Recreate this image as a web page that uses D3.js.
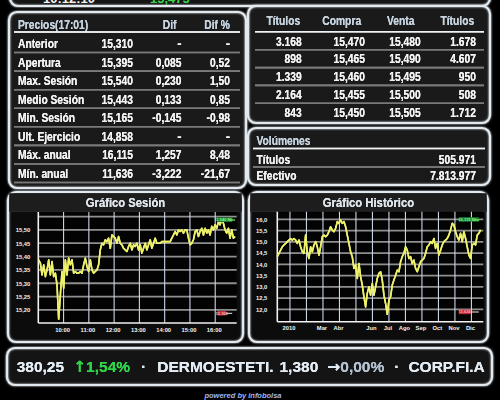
<!DOCTYPE html>
<html>
<head>
<meta charset="utf-8">
<script src="https://cdn.jsdelivr.net/npm/d3@7/dist/d3.min.js"></script>
<style>
  body { margin: 0; background: #000; }
  svg { display: block; }
  text { font-family: "Liberation Sans", Arial, sans-serif; font-weight: bold; }
  .arrow { font-family: "DejaVu Sans", sans-serif; }
</style>
</head>
<body>
<div id="screen"></div>
<script>
// ---- data ----
var preciosTitle = "Precios(17:01)";
var preciosHeader = ["Dif", "Dif %"];
var preciosLabels = ["Anterior", "Apertura", "Max. Sesión", "Medio Sesión", "Min. Sesión", "Ult. Ejercicio", "Máx. anual", "Mín. anual"];
var preciosValues = ["15,310", "15,395", "15,540", "15,443", "15,165", "14,858", "16,115", "11,636"];
var preciosDif = ["-", "0,085", "0,230", "0,133", "-0,145", "-", "1,257", "-3,222"];
var preciosDifPct = ["-", "0,52", "1,50", "0,85", "-0,98", "-", "8,48", "-21,67"];

var bookHeader = ["Títulos", "Compra", "Venta", "Títulos"];
var bookTitulosCompra = ["3.168", "898", "1.339", "2.164", "843"];
var bookCompra = ["15,470", "15,465", "15,460", "15,455", "15,450"];
var bookVenta = ["15,480", "15,490", "15,495", "15,500", "15,505"];
var bookTitulosVenta = ["1.678", "4.607", "950", "508", "1.712"];

var volTitle = "Volúmenes";
var volLabels = ["Títulos", "Efectivo"];
var volValues = ["505.971", "7.813.977"];

// session chart (minutes from midnight, ~4 min samples)
var sessionStart = 541, sessionStep = 3.95;
var sessionValues = [15.388, 15.375, 15.331, 15.369, 15.325, 15.350, 15.388, 15.331, 15.381, 15.325,
  15.338, 15.294, 15.165, 15.256, 15.344, 15.281, 15.388, 15.331, 15.394, 15.369,
  15.388, 15.338, 15.344, 15.338, 15.338, 15.344, 15.338, 15.369, 15.394, 15.363,
  15.344, 15.388, 15.350, 15.338, 15.344, 15.350, 15.369, 15.425, 15.450, 15.444,
  15.463, 15.456, 15.469, 15.431, 15.481, 15.475, 15.469, 15.450, 15.475, 15.450,
  15.444, 15.431, 15.425, 15.419, 15.438, 15.450, 15.425, 15.444, 15.438, 15.450,
  15.425, 15.444, 15.413, 15.431, 15.450, 15.425, 15.444, 15.463, 15.431, 15.450,
  15.469, 15.450, 15.450, 15.450, 15.456, 15.456, 15.456, 15.456, 15.456, 15.456,
  15.469, 15.481, 15.494, 15.481, 15.500, 15.494, 15.500, 15.488, 15.500, 15.500,
  15.469, 15.444, 15.450, 15.463, 15.494, 15.500, 15.475, 15.494, 15.506, 15.481,
  15.506, 15.488, 15.500, 15.481, 15.513, 15.500, 15.519, 15.506, 15.531, 15.519,
  15.540, 15.525, 15.500, 15.488, 15.506, 15.469, 15.500, 15.469, 15.475];
var sessionRef = 15.31;
var sessionYGrid = [15.20, 15.25, 15.30, 15.35, 15.40, 15.45, 15.50, 15.55];
var sessionYTicks = [15.20, 15.25, 15.30, 15.35, 15.40, 15.45, 15.50];
var sessionXTicks = ["10:00", "11:00", "12:00", "13:00", "14:00", "15:00", "16:00"];
var sessionMax = "15,540", sessionMin = "15,165";

// historic chart (month index, Ene 2010 = 0)
var histStart = -0.768, histStep = 0.101;
var histValues = [14.34, 14.49, 14.63, 14.78, 14.86, 14.93, 15.01, 15.08, 15.15, 15.08,
  15.15, 15.08, 14.93, 15.08, 14.78, 14.56, 14.49, 15.30, 14.56, 14.26,
  14.78, 14.56, 14.86, 15.01, 14.78, 14.41, 14.78, 15.23, 15.30, 15.23,
  15.30, 15.45, 15.67, 15.53, 15.45, 15.60, 15.90, 15.82, 15.97, 15.82,
  15.90, 15.67, 15.30, 14.93, 14.56, 14.34, 13.82, 13.97, 13.37, 14.04,
  13.45, 13.08, 12.56, 12.11, 12.71, 13.00, 12.63, 13.15, 12.63, 13.00,
  13.37, 13.60, 13.67, 13.30, 12.63, 12.26, 11.78, 12.41, 12.56, 13.08,
  13.30, 13.52, 13.74, 13.67, 14.12, 14.34, 14.49, 14.78, 14.63, 14.26,
  14.34, 14.04, 14.19, 13.82, 13.67, 13.89, 14.12, 14.19, 14.26, 14.49,
  14.78, 14.86, 15.01, 14.93, 15.15, 14.71, 14.93, 14.41, 14.63, 14.86,
  15.01, 15.08, 15.15, 15.30, 15.53, 15.82, 15.75, 15.45, 15.23, 15.08,
  15.38, 15.01, 15.45, 15.15, 14.78, 14.41, 14.26, 14.86, 14.93, 14.86,
  15.30, 15.38, 15.53];
var histRef = 15.31;
var histYTicks = [12.0, 12.5, 13.0, 13.5, 14.0, 14.5, 15.0, 15.5, 16.0];
var histMonths = ["2010", "Feb", "Mar", "Abr", "May", "Jun", "Jul", "Ago", "Sep", "Oct", "Nov", "Dic"];
var histShown = ["2010", "Mar", "Abr", "Jun", "Jul", "Ago", "Sep", "Oct", "Nov", "Dic"];
var histMax = "16,115", histMin = "11,636";

var tickerIndex = "380,25", tickerIndexChange = "1,54%";
var tickerNames = ["DERMOESTETI.", "CORP.FI.A"];
var tickerPrices = ["1,380"];
var tickerChanges = ["0,00%"];
var topClock = "10:12:10", topQuote = "15,475";

// ---- drawing ----
var es = d3.formatLocale({decimal: ",", thousands: ".", grouping: [3], currency: ["", " €"]});

var svg = d3.select("#screen").append("svg").attr("width", 500).attr("height", 400);
svg.append("rect").attr("width", 500).attr("height", 400).attr("fill", "#000");

var defs = svg.append("defs");
function glowFilter(id, sd) {
  var f = defs.append("filter").attr("id", id)
    .attr("x", "-10%").attr("y", "-30%").attr("width", "120%").attr("height", "160%");
  f.append("feGaussianBlur").attr("in", "SourceGraphic").attr("stdDeviation", sd).attr("result", "b");
  var m = f.append("feMerge");
  m.append("feMergeNode").attr("in", "b");
  m.append("feMergeNode").attr("in", "SourceGraphic");
}
glowFilter("glow", 1.3);
glowFilter("soft", 0.6);
glowFilter("txtglow", 0.45);

function panel(x, y, w, h, fill) {
  svg.append("rect").attr("x", x).attr("y", y).attr("width", w).attr("height", h)
    .attr("rx", 8).attr("fill", fill || "#1a1a1a");
  svg.append("rect").attr("x", x).attr("y", y).attr("width", w).attr("height", h)
    .attr("rx", 8).attr("fill", "none")
    .attr("stroke", "#e2eaf0").attr("stroke-width", 2.2)
    .attr("filter", "url(#glow)");
}

// narrow bold text: Liberation Sans Bold squeezed horizontally
function txt(g, x, y, s, o) {
  o = o || {};
  var t = g.append("text").attr("x", x).attr("y", y).attr("dy", "0.36em")
    .attr("text-anchor", o.anchor || "start")
    .attr("font-size", o.size || 13)
    .attr("fill", o.fill || "#f3f3f3")
    .text(s);
  var sx = o.sx === undefined ? 0.79 : o.sx;
  if (sx !== 1 && s.length > 1) {
    t.attr("textLength", t.node().getComputedTextLength() * sx).attr("lengthAdjust", "spacingAndGlyphs");
  }
  return t;
}

function hline(g, x1, x2, y, color, w) {
  g.append("line").attr("x1", x1).attr("x2", x2).attr("y1", y).attr("y2", y)
    .attr("stroke", color).attr("stroke-width", w);
}

// top strip (cut off by the frame)
panel(10, -24, 480, 30, "#151515");
var topG = svg.append("g");
txt(topG, 43, -1.5, topClock, {size: 13, sx: 1});
txt(topG, 150, -1.5, topQuote, {size: 13, sx: 1, fill: "#3bd14a"});

// precios table
panel(9, 12, 237, 176);
var pg = svg.append("g").attr("filter", "url(#txtglow)");
var pRow = d3.scaleBand().domain(preciosLabels).range([34, 182.5]);
var headFill = "#c6d4e0";
txt(pg, 18, 24.5, preciosTitle, {fill: headFill});
txt(pg, 176.5, 24.5, preciosHeader[0], {anchor: "end", fill: headFill});
txt(pg, 230, 24.5, preciosHeader[1], {anchor: "end", fill: headFill});
hline(pg, 14, 240, 32, "#eef2f4", 1.6);
preciosLabels.forEach(function (lab, i) {
  var cy = pRow(lab) + pRow.bandwidth() / 2;
  hline(pg, 14, 240, pRow(lab) + pRow.bandwidth(), "#7a7a7a", 1.6);
  txt(pg, 18, cy, lab);
  txt(pg, 133, cy, preciosValues[i], {anchor: "end"});
  txt(pg, 181.5, cy, preciosDif[i], {anchor: "end"});
  txt(pg, 230, cy, preciosDifPct[i], {anchor: "end"});
});

// order book
panel(248, 6, 242, 117);
var bg = svg.append("g").attr("filter", "url(#txtglow)");
var bRow = d3.scaleBand().domain(d3.range(bookCompra.length)).range([32, 121]);
var bHeadX = [283.3, 341.7, 400.7, 457.3];
var bColR = [301.7, 365, 420.7, 476];
bookHeader.forEach(function (h, j) { txt(bg, bHeadX[j], 20.5, h, {anchor: "middle", fill: headFill}); });
hline(bg, 255, 484, 31.7, "#eef2f4", 1.6);
var bookCols = [bookTitulosCompra, bookCompra, bookVenta, bookTitulosVenta];
bookCompra.forEach(function (v, i) {
  var cy = bRow(i) + bRow.bandwidth() / 2;
  if (i < bookCompra.length - 1) hline(bg, 255, 484, bRow(i) + bRow.bandwidth(), "#7a7a7a", 1.6);
  bookCols.forEach(function (col, j) { txt(bg, bColR[j], cy, col[i], {anchor: "end"}); });
});

// volumes
panel(248, 128, 242, 57);
var vg = svg.append("g").attr("filter", "url(#txtglow)");
txt(vg, 256.5, 140.7, volTitle, {fill: headFill});
hline(vg, 253, 485, 148.5, "#eef2f4", 1.6);
var vRow = d3.scaleBand().domain(volLabels).range([151, 183]);
volLabels.forEach(function (lab, i) {
  var cy = vRow(lab) + vRow.bandwidth() / 2;
  if (i === 0) hline(vg, 253, 485, vRow(lab) + vRow.bandwidth(), "#7a7a7a", 1.6);
  txt(vg, 256.5, cy, lab);
  txt(vg, 476, cy, volValues[i], {anchor: "end"});
});

// charts
function drawChart(cfg) {
  panel(cfg.px, 192, cfg.pw, 150, "#0c0c0c");
  var g = svg.append("g");
  g.append("rect").attr("x", cfg.px + 1.2).attr("y", 193.2).attr("width", cfg.pw - 2.4).attr("height", 18)
    .attr("fill", "#1d1d1d");
  hline(g, cfg.px + 1, cfg.px + cfg.pw - 1, 211.3, "#2c2c2c", 1);
  txt(g, cfg.px + cfg.pw / 2, 202, cfg.title, {anchor: "middle", size: 12.5, sx: 0.9, fill: "#dfe6ec"})
    .attr("filter", "url(#txtglow)");

  var x = cfg.x, y = cfg.y;
  var x0 = x.range()[0], x1 = x.range()[1], y0 = y.range()[1], y1 = y.range()[0];
  g.append("rect").attr("x", x0).attr("y", y0).attr("width", x1 - x0).attr("height", y1 - y0)
    .attr("fill", "#030303");

  g.selectAll(".hg").data(cfg.yGrid).enter().append("line").attr("class", "hg")
    .attr("x1", x0).attr("x2", x1)
    .attr("y1", function (d) { return y(d); }).attr("y2", function (d) { return y(d); })
    .attr("stroke", "#8f8f8f").attr("stroke-width", 1.8);
  g.selectAll(".vg").data(cfg.xGrid).enter().append("line").attr("class", "vg")
    .attr("y1", y0).attr("y2", y1)
    .attr("x1", function (d) { return x(d); }).attr("x2", function (d) { return x(d); })
    .attr("stroke", "#cbd5e6").attr("stroke-width", 1.1);

  var ya = g.append("g").attr("transform", "translate(" + x0 + ",0)")
    .call(d3.axisLeft(y).tickValues(cfg.yTicks).tickFormat(cfg.yFormat).tickSize(0).tickPadding(cfg.yPad));
  var xa = g.append("g").attr("transform", "translate(0," + y1 + ")")
    .call(d3.axisBottom(x).tickValues(cfg.xTicks).tickFormat(cfg.xFormat).tickSize(0).tickPadding(4.5));
  [ya, xa].forEach(function (a) {
    a.select(".domain").remove();
    a.attr("font-size", 5.8);
    a.selectAll("text").attr("fill", "#f4f4f4");
  });
  xa.selectAll("text").attr("dx", -1.5);

  g.append("line").attr("x1", x0).attr("x2", x0).attr("y1", y0).attr("y2", y1)
    .attr("stroke", "#f2f2f2").attr("stroke-width", 1.6);
  hline(g, x0, x1, y1, "#f2f2f2", 1.6);

  g.append("line").attr("x1", x0).attr("x2", x1).attr("y1", y(cfg.ref)).attr("y2", y(cfg.ref))
    .attr("stroke", "#3449e2").attr("stroke-width", 3.6).attr("filter", "url(#glow)");

  var line = d3.line()
    .x(function (d, i) { return x(cfg.start + i * cfg.step); })
    .y(function (d) { return y(d); });
  g.append("path").datum(cfg.values).attr("d", line)
    .attr("fill", "none").attr("stroke", "#eef36a").attr("stroke-width", 1.6)
    .attr("stroke-linejoin", "round").attr("filter", "url(#soft)");

  // max / min tags
  g.append("rect").attr("x", x1 - cfg.tagW - 4.5).attr("y", y0 + 5.5).attr("width", cfg.tagW).attr("height", 4.5)
    .attr("fill", "#1f7a35");
  g.append("text").attr("x", x1 - 4.5 - cfg.tagW / 2).attr("y", y0 + 7.8).attr("dy", "0.36em")
    .attr("text-anchor", "middle").attr("font-size", 4).attr("fill", "#7dff8c").text(cfg.max + " Máx");
  g.append("rect").attr("x", x1 - cfg.tagW - 4.5).attr("y", y1 - 12).attr("width", cfg.tagW * 0.6).attr("height", 4.5)
    .attr("fill", "#c3283c");
  g.append("text").attr("x", x1 - cfg.tagW - 4.5 + cfg.tagW * 0.3).attr("y", y1 - 9.7).attr("dy", "0.36em")
    .attr("text-anchor", "middle").attr("font-size", 4).attr("fill", "#ffb0b8").text(cfg.min);
  hline(g, x1 - cfg.tagW * 0.4 - 4.5, x1 - 4.5, y1 - 9.7, "#f0f0f0", 1);
}

function toMin(s) { var p = s.split(":"); return +p[0] * 60 + +p[1]; }

drawChart({
  title: "Gráfico Sesión", px: 8, pw: 235,
  x: d3.scaleLinear().domain([540, 1011]).range([38.3, 236.7]),
  y: d3.scaleLinear().domain([15.151, 15.567]).range([323, 212]),
  yGrid: sessionYGrid, yTicks: sessionYTicks, yFormat: es.format(".2f"), yPad: 8,
  xGrid: sessionXTicks.map(toMin), xTicks: sessionXTicks.map(toMin),
  xFormat: function (d) { return sessionXTicks[sessionXTicks.map(toMin).indexOf(d)]; },
  values: sessionValues, start: sessionStart, step: sessionStep, ref: sessionRef,
  max: sessionMax, min: sessionMin, tagW: 15
});

drawChart({
  title: "Gráfico Histórico", px: 249, pw: 239,
  x: d3.scaleLinear().domain([-0.768, 11.72]).range([277.3, 483.3]),
  y: d3.scaleLinear().domain([11.45, 16.34]).range([321.7, 211.7]),
  yGrid: histYTicks, yTicks: histYTicks, yFormat: es.format(".1f"), yPad: 10,
  xGrid: d3.range(histMonths.length), xTicks: histShown.map(function (m) { return histMonths.indexOf(m); }),
  xFormat: function (d) { return histMonths[d]; },
  values: histValues, start: histStart, step: histStep, ref: histRef,
  max: histMax, min: histMin, tagW: 20
});

// ticker
panel(7, 348, 485, 37, "#141414");
var tg = svg.append("g").attr("filter", "url(#txtglow)");
var tickWhite = "#e4edf5";
var segs = [
  {t: tickerIndex, fill: tickWhite, gap: 0},
  {arrow: "\u2191", t: tickerIndexChange, fill: "#2fd548", gap: 9},
  {t: "\u00b7", fill: tickWhite, gap: 11},
  {t: tickerNames[0], fill: tickWhite, gap: 11},
  {t: tickerPrices[0], fill: tickWhite, gap: 6},
  {arrow: "\u2192", t: tickerChanges[0], fill: "#b4c2d2", gap: 9},
  {t: "\u00b7", fill: tickWhite, gap: 10},
  {t: tickerNames[1], fill: tickWhite, gap: 9}
];
var cx = 16.7;
segs.forEach(function (s) {
  cx += s.gap;
  var t = tg.append("text").attr("x", cx).attr("y", 366).attr("dy", "0.36em")
    .attr("font-size", 15.5).attr("fill", s.fill);
  if (s.arrow) {
    t.append("tspan").attr("class", "arrow").attr("fill", s.arrow === "\u2191" ? s.fill : tickWhite).text(s.arrow);
  }
  t.append("tspan").text(s.t);
  cx += t.node().getComputedTextLength();
});

svg.append("text").attr("x", 243).attr("y", 395).attr("dy", "0.36em").attr("text-anchor", "middle")
  .attr("font-size", 7.5).attr("fill", "#a3b6ea").attr("font-style", "italic").text("powered by infobolsa");
</script>
</body>
</html>
